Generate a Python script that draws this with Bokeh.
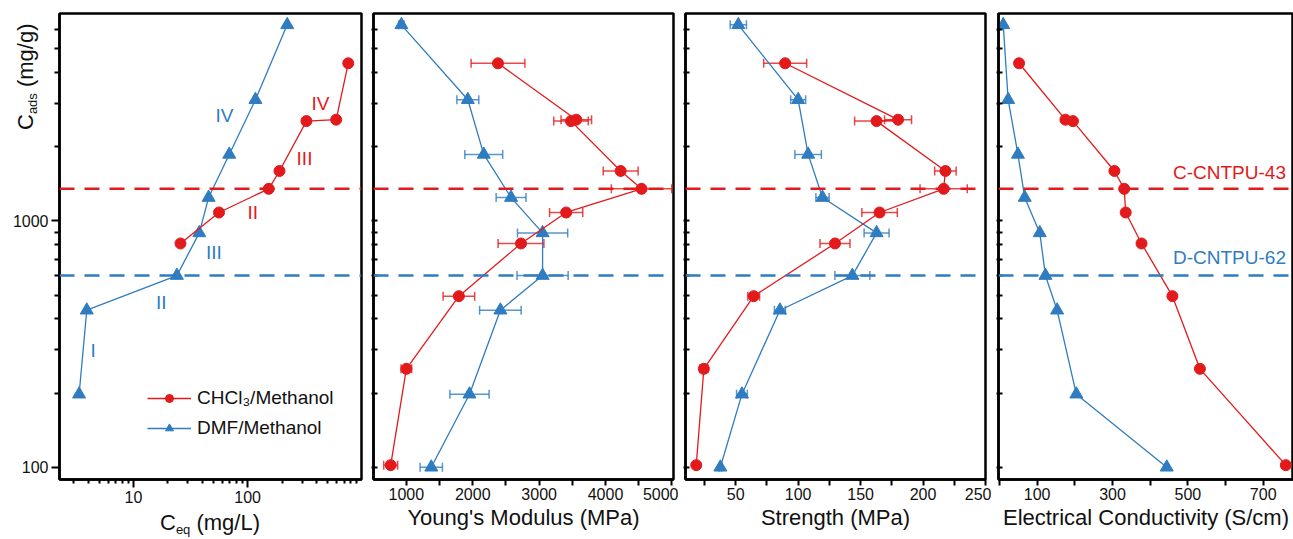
import numpy as np
from bokeh.plotting import figure
from bokeh.models import (Range1d, FixedTicker, Span, Whisker, ColumnDataSource, Label,
                          Legend, LegendItem, PrintfTickFormatter, TeeHead, Div)
from bokeh.layouts import row
from bokeh.embed import file_html
from bokeh.resources import INLINE

RED = "#E31A1C"
BLUE = "#2F7CC0"
FONT = "Liberation Sans"
INK = "#111111"

# ---------------- data ----------------
red_cads = [4365, 2576, 2542, 1595, 1350, 1082, 810, 495, 251, 102]
blue_cads = [6250, 3105, 1862, 1244, 894, 600, 434, 198, 100]

red_ceq = [760, 596, 327, 190, 153, 56.1, 25.8]
blue_ceq = [222, 117, 69, 45.5, 37.7, 24.0, 3.90, 3.34]

red_modulus = [2380, 3560, 3480, 4228, 4543, 3407, 2727, 1791, 1000, 764]
red_modulus_err = [405, 230, 260, 263, 455, 250, 345, 238, 80, 105]
blue_modulus = [925, 1926, 2166, 2577, 3052, 3052, 2416, 1951, 1375]
blue_modulus_err = [40, 165, 285, 225, 378, 385, 313, 295, 168]

red_strength = [89.6, 180, 162.8, 217.9, 216.5, 165.2, 129.5, 64.4, 24.5, 18.4]
red_strength_err = [17.2, 10.8, 17.6, 8.6, 18.9, 14.2, 12, 4.7, 3.3, 1]
blue_strength = [52.1, 100, 108, 119.5, 162.8, 143.4, 85.4, 55, 37.7]
blue_strength_err = [6.5, 6, 10.6, 5.3, 10, 14, 4.4, 4.3, 1]

red_conductivity = [52, 175, 195, 305, 331, 335, 377, 459, 532, 760]
blue_conductivity = [10, 23, 49, 67, 107, 122, 153, 204, 444]

ref_levels = [1350, 600]
ref_names = ["C-CNTPU-43", "D-CNTPU-62"]
series_names = ["CHCl\u2083/Methanol", "DMF/Methanol"]
x1_label = ("C", "eq", " (mg/L)")
y_label = ("C", "ads", " (mg/g)")

y_major = [100, 1000]
y_minor = [200, 300, 400, 500, 600, 700, 800, 900, 2000, 3000, 4000, 5000, 6000]

H = 539


def base_fig(width, x_range, x_type, bl, br):
    p = figure(width=width, height=H, x_range=x_range, y_range=Range1d(89.2, 6950),
               x_axis_type=x_type, y_axis_type="log", output_backend="svg",
               toolbar_location=None, min_border_left=bl, min_border_right=br,
               min_border_top=13, min_border_bottom=60)
    p.grid.visible = False
    p.outline_line_color = "black"
    p.outline_line_width = 2.5
    p.outline_line_alpha = 1
    p.background_fill_color = "white"
    p.border_fill_color = "white"
    for ax in p.axis:
        ax.axis_line_width = 2.5
        ax.axis_line_color = "black"
        ax.major_tick_line_width = 2
        ax.minor_tick_line_width = 2
        ax.major_tick_line_color = "black"
        ax.minor_tick_line_color = "black"
        ax.major_label_text_font = FONT
        ax.major_label_text_font_size = "16px"
        ax.major_label_text_color = INK
        ax.axis_label_text_font = FONT
        ax.axis_label_text_font_size = "22px"
        ax.axis_label_text_font_style = "normal"
        ax.axis_label_text_color = INK
    p.yaxis.ticker = FixedTicker(ticks=y_major, minor_ticks=y_minor)
    for lvl, col in zip(ref_levels, [RED, BLUE]):
        p.add_layout(Span(location=lvl, dimension="width", line_color=col,
                          line_dash="15 10", line_width=2.5))
    return p


def add_series(p, x, y, color, marker, size, err=None):
    if err is not None:
        src = ColumnDataSource(dict(y=y, lo=[a - e for a, e in zip(x, err)],
                                    hi=[a + e for a, e in zip(x, err)]))
        w = Whisker(base="y", lower="lo", upper="hi", dimension="width", source=src,
                    line_color=color, line_width=1.5, line_alpha=0.8,
                    upper_head=TeeHead(size=9, line_color=color, line_width=1.5, line_alpha=0.8),
                    lower_head=TeeHead(size=9, line_color=color, line_width=1.5, line_alpha=0.8))
        p.add_layout(w)
    ln = p.line(x, y, line_color=color, line_width=1.3)
    sc = p.scatter(x, y, marker=marker, size=size, fill_color=color, line_color=color)
    return ln, sc


# ---------------- panel 1 ----------------
p1 = base_fig(366, Range1d(2.25, 993), "log", 59, 5)
p1.xaxis.ticker = FixedTicker(ticks=[10, 100],
                              minor_ticks=[3, 4, 5, 6, 7, 8, 9, 20, 30, 40, 50, 60, 70, 80, 90,
                                           200, 300, 400, 500, 600, 700, 800, 900])
p1.xaxis.formatter = PrintfTickFormatter(format="%d")
p1.yaxis.formatter = PrintfTickFormatter(format="%d")
p1.xaxis.major_tick_out = 8
p1.xaxis.major_tick_in = 0
p1.xaxis.minor_tick_out = 4
p1.xaxis.minor_tick_in = 0
p1.xaxis.major_label_standoff = 3
p1.yaxis.major_tick_out = 8
p1.yaxis.major_tick_in = 0
p1.yaxis.minor_tick_out = 5
p1.yaxis.minor_tick_in = 0
p1.yaxis.major_label_standoff = 3

bl1, bs1 = add_series(p1, blue_ceq, blue_cads[:len(blue_ceq)], BLUE, "triangle", 13)
rl1, rs1 = add_series(p1, red_ceq, red_cads[:len(red_ceq)], RED, "circle", 11)

legend = Legend(items=[LegendItem(label=series_names[0], renderers=[rl1, rs1]),
                       LegendItem(label=series_names[1], renderers=[bl1, bs1])],
                location=(88, 40), glyph_width=44, glyph_height=20,
                label_text_font=FONT, label_text_font_size="19px", label_standoff=6,
                spacing=8, padding=0, margin=0, border_line_color=None,
                background_fill_alpha=0, label_text_color=INK)
p1.add_layout(legend)

numerals = [("IV", RED, 261, 375.7), ("III", RED, 245, 320.7), ("II", RED, 193.3, 266.7),
            ("IV", BLUE, 165, 364), ("III", BLUE, 154.3, 226.7), ("II", BLUE, 101.7, 177.3),
            ("I", BLUE, 33.7, 129)]
for t, c, sx, sy in numerals:
    p1.add_layout(Label(x=sx, y=sy, x_units="screen", y_units="screen", text=t,
                        text_color=c, text_font=FONT, text_font_size="19px",
                        text_align="center", text_baseline="middle"))


def inner_axes(p, majors, minors, label):
    p.xaxis.ticker = FixedTicker(ticks=majors, minor_ticks=minors)
    p.xaxis.major_tick_out = 6
    p.xaxis.major_tick_in = 0
    p.xaxis.minor_tick_out = 6
    p.xaxis.minor_tick_in = 0
    p.xaxis.major_label_standoff = 2
    p.xaxis.axis_label = label
    p.xaxis.axis_label_standoff = 2
    p.yaxis.major_tick_out = 2
    p.yaxis.major_tick_in = 4
    p.yaxis.minor_tick_out = 2
    p.yaxis.minor_tick_in = 4
    p.yaxis.major_label_text_font_size = "8px"
    p.yaxis.major_label_overrides = {100: " ", 1000: " "}
    p.yaxis.major_label_standoff = 0


# ---------------- panel 2 ----------------
p2 = base_fig(312, Range1d(505, 5024), "linear", 6, 5)
inner_axes(p2, [1000, 2000, 3000, 4000, 5000], [1500, 2500, 3500, 4500], "Young's Modulus (MPa)")
add_series(p2, blue_modulus, blue_cads, BLUE, "triangle", 13, blue_modulus_err)
add_series(p2, red_modulus, red_cads, RED, "circle", 11, red_modulus_err)

# ---------------- panel 3 ----------------
p3 = base_fig(313, Range1d(9.8, 250), "linear", 6, 6)
inner_axes(p3, [50, 100, 150, 200, 250], [25, 75, 125, 175, 225], "Strength (MPa)")
add_series(p3, blue_strength, blue_cads, BLUE, "triangle", 13, blue_strength_err)
add_series(p3, red_strength, red_cads, RED, "circle", 11, red_strength_err)

# ---------------- panel 4 ----------------
p4 = base_fig(302, Range1d(-2.6, 780.4), "linear", 6, 0)
inner_axes(p4, [100, 300, 500, 700], [0, 200, 400, 600], "Electrical Conductivity (S/cm)")
add_series(p4, blue_conductivity, blue_cads, BLUE, "triangle", 13)
add_series(p4, red_conductivity, red_cads, RED, "circle", 11)
for name, col, sy in [(ref_names[0], RED, 306.7), (ref_names[1], BLUE, 222.3)]:
    p4.add_layout(Label(x=231, y=sy, x_units="screen", y_units="screen", text=name,
                        text_color=col, text_font=FONT, text_font_size="19px",
                        text_align="center", text_baseline="middle"))

# ---------------- axis titles with subscripts (HTML overlay) ----------------
base_css = ("position:absolute; font-family:'Liberation Sans'; font-size:22px; color:%s; "
            "white-space:nowrap; line-height:22px; margin:0; padding:0;" % INK)
sub_css = "font-size:13px; vertical-align:-4px; line-height:0;"
html = (
    '<div style="%s left:10px; top:125px; transform-origin:0 0; transform:rotate(-90deg);">'
    '%s<span style="%s">%s</span>%s</div>'
    '<div style="%s left:155px; top:507px;">%s<span style="%s">%s</span>%s</div>'
) % (base_css, y_label[0], sub_css, y_label[1], y_label[2],
     base_css, x1_label[0], sub_css, x1_label[1], x1_label[2])
titles = Div(text=html, width=1, height=1,
             styles={"position": "absolute", "left": "0px", "top": "0px",
                     "overflow": "visible", "z-index": "10"},
             stylesheets=[":host { overflow: visible; } div { overflow: visible; }"])

layout = row(titles, p1, p2, p3, p4, spacing=0)
open("out.html", "w").write(file_html(layout, INLINE))
